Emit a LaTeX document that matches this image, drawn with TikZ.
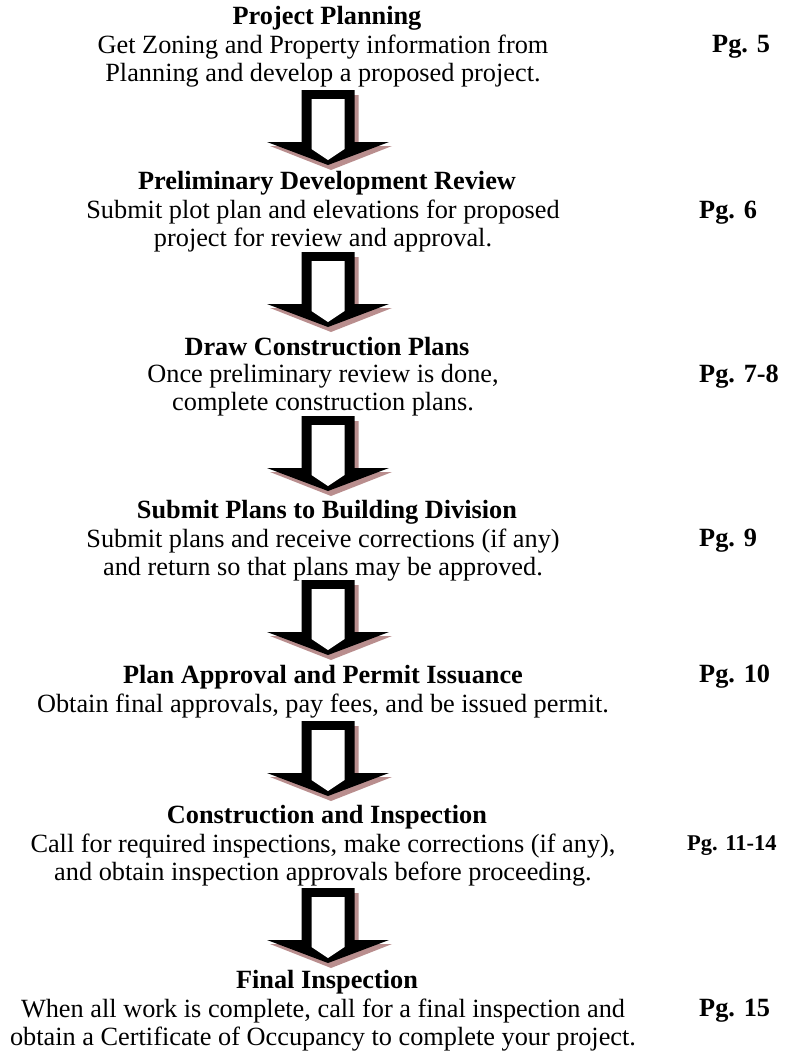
\documentclass[tikz,border=0pt]{standalone}
\usepackage{fontspec}
\setmainfont{Liberation Serif}
\usepackage{tikz}
\definecolor{shadowrose}{RGB}{185,142,142}

\tikzset{
  steptitle/.style={font=\fontsize{26.3}{28}\selectfont\bfseries, inner sep=0pt},
  steptext/.style={font=\fontsize{26.3}{28}\selectfont, align=center, inner sep=0pt},
  pageref/.style={font=\fontsize{26.3}{28}\selectfont\bfseries, anchor=west, inner sep=0pt},
  bigarrow/.pic={
    \fill[shadowrose] (-22.5,5) -- (30.5,5) -- (30.5,56) -- (64,56) -- (3,80) -- (-58,56) -- (-22.5,56) -- cycle;
    \fill[black] (-26.5,0) -- (26.5,0) -- (26.5,52) -- (61,52) -- (0,75) -- (-61,52) -- (-26.5,52) -- cycle;
    \fill[white] (-16.5,9) -- (16.5,9) -- (16.5,59) -- (0,70) -- (-16.5,59) -- cycle;
  }
}

\begin{document}
\begin{tikzpicture}[x=1pt, y=-1pt]
  \useasboundingbox (0,0) rectangle (789,1055);

  % Arrows
  \foreach \t [count=\i] in {90,252,416,580,721,888} {
    \coordinate (arr\i) at (328,\t);
    \pic at (arr\i) {bigarrow};
  }

  % Project Planning
  \node[steptitle] (plan) at (327,18) {Project Planning};
  \node[steptext] (plantext) at (323,61) {Get Zoning and Property information from\\Planning and develop a proposed project.};
  \node[pageref] (pg5) at (712,47) {Pg. 5};

  % Preliminary Development Review
  \node[steptitle] (prelim) at (327,183) {Preliminary Development Review};
  \node[steptext] (prelimtext) at (323,226) {Submit plot plan and elevations for proposed\\project for review and approval.};
  \node[pageref] (pg6) at (699,213) {Pg. 6};

  % Draw Construction Plans
  \node[steptitle] (draw) at (327,347) {Draw Construction Plans};
  \node[steptext] (drawtext) at (323,390) {Once preliminary review is done,\\complete construction plans.};
  \node[pageref] (pg7) at (699,377) {Pg. 7-8};

  % Submit Plans to Building Division
  \node[steptitle] (submit) at (327,512) {Submit Plans to Building Division};
  \node[steptext] (submittext) at (323,555) {Submit plans and receive corrections (if any)\\and return so that plans may be approved.};
  \node[pageref] (pg9) at (699,541) {Pg. 9};

  % Plan Approval and Permit Issuance
  \node[steptitle] (approval) at (323,677) {Plan Approval and Permit Issuance};
  \node[steptext] (approvaltext) at (323,706) {Obtain final approvals, pay fees, and be issued permit.};
  \node[pageref] (pg10) at (699,677) {Pg. 10};

  % Construction and Inspection
  \node[steptitle] (constr) at (327,817) {Construction and Inspection};
  \node[steptext] (constrtext) at (323,860) {Call for required inspections, make corrections (if any),\\and obtain inspection approvals before proceeding.};
  \node[pageref, font=\fontsize{22.5}{26}\selectfont\bfseries] (pg11) at (687,846) {Pg. 11-14};

  % Final Inspection
  \node[steptitle] (final) at (327,982) {Final Inspection};
  \node[steptext] (finaltext) at (323,1025) {When all work is complete, call for a final inspection and\\obtain a Certificate of Occupancy to complete your project.};
  \node[pageref] (pg15) at (699,1011) {Pg. 15};
\end{tikzpicture}
\end{document}
